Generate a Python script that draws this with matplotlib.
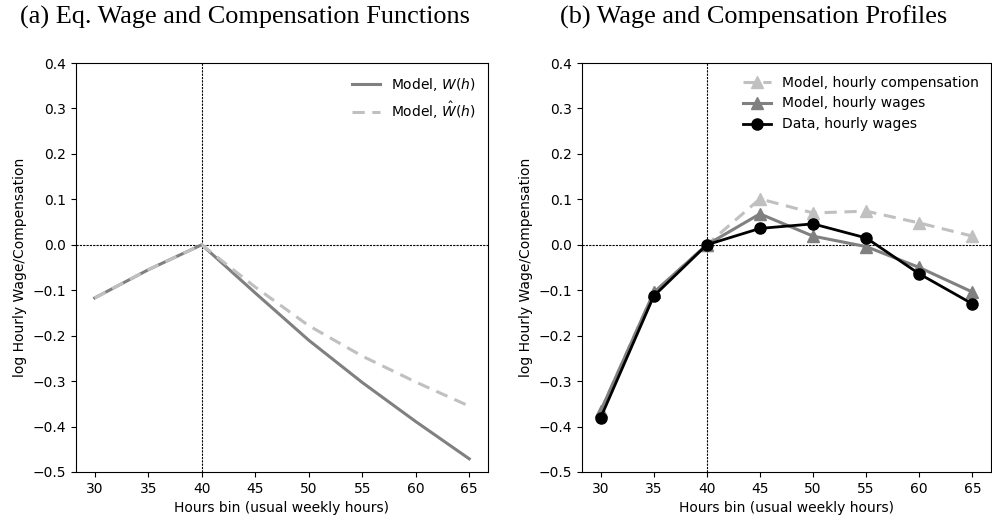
import numpy as np
import matplotlib
matplotlib.use('Agg')
import matplotlib.pyplot as plt
from matplotlib.ticker import FuncFormatter

# panel (a): equilibrium wage and compensation functions
hours_a = [30, 35, 40, 45, 50, 55, 60, 65]
wage_fn = [-0.117, -0.055, 0.0, -0.106, -0.210, -0.303, -0.389, -0.471]
comp_fn = [-0.117, -0.055, 0.0, -0.093, -0.178, -0.245, -0.302, -0.355]

# panel (b): profiles by hours bin
hours_b = [30, 35, 40, 45, 50, 55, 60, 65]
model_comp = [-0.365, -0.105, 0.0, 0.101, 0.070, 0.074, 0.048, 0.019]
model_wage = [-0.366, -0.105, 0.0, 0.068, 0.019, -0.004, -0.050, -0.104]
data_wage = [-0.381, -0.113, 0.0, 0.036, 0.046, 0.015, -0.064, -0.130]

yticks = np.round(np.arange(-0.5, 0.41, 0.1), 1)
xticks = [30, 35, 40, 45, 50, 55, 60, 65]

dark = '#808080'
light = '#c0c0c0'

def yfmt(v, pos):
    s = '%.1f' % v
    if s == '-0.0':
        s = '0.0'
    return s.replace('-', '\u2212')

fig = plt.figure(figsize=(9.92, 5.22), dpi=100)
ax1 = fig.add_axes([0.0766, 0.0958, 0.4153, 0.7835])
ax2 = fig.add_axes([0.5867, 0.0958, 0.4123, 0.7835])

ax1.plot(hours_a, wage_fn, color=dark, lw=2.2, label='Model, $W(h)$')
ax1.plot(hours_a, comp_fn, color=light, lw=2.2, ls=(0, (4, 2.5)), label=r'Model, $\hat{W}(h)$')

ax2.plot(hours_b, model_comp, color=light, lw=2.2, ls=(0, (4, 2.5)), marker='^', ms=8,
         label='Model, hourly compensation')
ax2.plot(hours_b, model_wage, color=dark, lw=2.2, marker='^', ms=8, label='Model, hourly wages')
ax2.plot(hours_b, data_wage, color='black', lw=2.0, marker='o', ms=8, label='Data, hourly wages')

for ax in (ax1, ax2):
    ax.axvline(40, color='black', lw=0.8, ls=(0, (2, 1)), zorder=0)
    ax.axhline(0, color='black', lw=0.8, ls=(0, (2, 1)), zorder=0)
    ax.set_ylim(-0.5, 0.4)
    ax.set_xlim(28.25, 66.75)
    ax.set_yticks(yticks)
    ax.yaxis.set_major_formatter(FuncFormatter(yfmt))
    ax.set_xticks(xticks)
    ax.tick_params(labelsize=10)
    ax.set_xlabel('Hours bin (usual weekly hours)', fontsize=10)
    ax.set_ylabel('log Hourly Wage/Compensation', fontsize=10)
    ax.legend(loc='upper right', frameon=False, fontsize=10)

fig.text(0.247, 0.967, '(a) Eq. Wage and Compensation Functions', ha='center', va='center',
         family='Liberation Serif', fontsize=18.9)
fig.text(0.760, 0.967, '(b) Wage and Compensation Profiles', ha='center', va='center',
         family='Liberation Serif', fontsize=18.9)

fig.savefig('out.png', dpi=100)
